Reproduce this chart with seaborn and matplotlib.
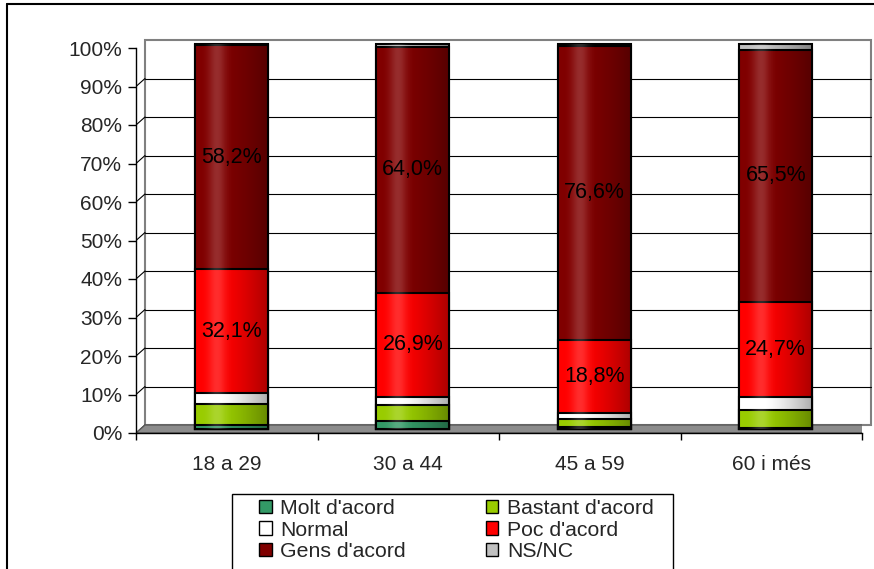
import matplotlib
matplotlib.use("Agg")
import matplotlib.pyplot as plt
import matplotlib.transforms as mtransforms
from matplotlib.patches import Rectangle, Polygon, Patch
from matplotlib.lines import Line2D
import numpy as np
import pandas as pd
import seaborn as sns

sns.set_style("white")
plt.rcParams['font.family'] = ['Liberation Sans', 'DejaVu Sans']
plt.rcParams['font.size'] = 15

# data (percent per age group)
groups = ["18 a 29", "30 a 44", "45 a 59", "60 i més"]
series = ["Molt d'acord", "Bastant d'acord", "Normal", "Poc d'acord", "Gens d'acord", "NS/NC"]
molt = [1.0, 2.2, 0.5, 0.2]
bastant = [5.5, 4.0, 2.1, 4.7]
normal = [2.9, 2.2, 1.6, 3.4]
poc = [32.1, 26.9, 18.8, 24.7]
gens = [58.2, 64.0, 76.6, 65.5]
nsnc = [0.3, 0.7, 0.4, 1.5]
colors = ['#339966', '#99CC00', '#FFFFFF', '#FF0000', '#800000', '#C0C0C0']
labelled = ["Poc d'acord", "Gens d'acord"]

df = pd.DataFrame({'grup': groups, series[0]: molt, series[1]: bastant, series[2]: normal,
                   series[3]: poc, series[4]: gens, series[5]: nsnc})

W, H = 874, 569
fig = plt.figure(figsize=(W / 100, H / 100), dpi=100)
fx0, fx1, fy0, fy1 = 136, 862, 433, 48   # front plane in pixels
ax = fig.add_axes([fx0 / W, 1 - fy0 / H, (fx1 - fx0) / W, (fy0 - fy1) / H])
ax.patch.set_visible(False)

wall_off = mtransforms.ScaledTranslation(0.09, 0.08, fig.dpi_scale_trans)
bar_off = mtransforms.ScaledTranslation(0.045, 0.04, fig.dpi_scale_trans)

# stacked bars: draw cumulative totals from the top down so shorter ones overlay
for i in reversed(range(len(series))):
    d = df.assign(cum=df[series[:i + 1]].sum(axis=1))
    sns.barplot(data=d, x='grup', y='cum', color=colors[i], saturation=1, width=0.4,
                edgecolor='black', linewidth=1.5, errorbar=None, ax=ax)

for p in ax.patches:
    p.set_transform(ax.transData + bar_off)
    p.set_clip_on(False)
    p.set_zorder(3)

ax.set_xlim(-0.5, 3.5)
ax.set_ylim(0, 100)

# shading on bars to mimic the cylinder look
t = np.linspace(0, 1, 80)
shade = np.zeros((1, 80, 4))
shade[..., 3] = 0.32 * np.clip((t - 0.35) / 0.65, 0, 1) ** 1.3
light = np.ones((1, 80, 4))
light[..., 3] = 0.18 * np.exp(-((t - 0.3) / 0.12) ** 2)
for i in range(len(groups)):
    for img in (shade, light):
        im = ax.imshow(img, extent=[i - 0.2, i + 0.2, 0, 100], aspect='auto', zorder=3.5)
        im.set_transform(ax.transData + bar_off)
        im.set_clip_on(False)
ax.set_xlim(-0.5, 3.5)
ax.set_ylim(0, 100)

# back wall and gridlines
ax.add_patch(Rectangle((-0.5, 0), 4, 100, transform=ax.transData + wall_off, facecolor='white',
                       edgecolor='#808080', lw=1.5, zorder=0.5, clip_on=False))
ident = mtransforms.IdentityTransform()
for v in range(0, 101, 10):
    if 0 < v < 100:
        ax.plot([-0.5, 3.5], [v, v], transform=ax.transData + wall_off, color='black',
                lw=0.8, clip_on=False, zorder=0.6)
    X, Y = ax.transData.transform((-0.5, v))
    ax.add_line(Line2D([X, X + 9], [Y, Y + 8], transform=ident,
                       color='#808080' if v == 100 else 'black', lw=0.8, zorder=0.6))

# floor
X0, Y0 = ax.transData.transform((-0.5, 0))
X1, _ = ax.transData.transform((3.5, 0))
ax.add_patch(Polygon([(X0, Y0), (X1, Y0), (X1 + 9, Y0 + 8), (X0 + 9, Y0 + 8)], closed=True,
                     transform=ident, facecolor='#8c8c8c', edgecolor='#5a5a5a', lw=1, zorder=1))

# bar caps
for i in range(len(groups)):
    a = ax.transData.transform((i - 0.2, 100))
    b = ax.transData.transform((i + 0.2, 100))
    ax.add_patch(Polygon([(a[0] + 4.5, a[1] + 4), (b[0] + 4.5, b[1] + 4), (b[0] - 1, b[1] + 7.5),
                          (a[0] + 14, a[1] + 7.5)], closed=True, transform=ident,
                         facecolor=colors[-1], edgecolor='black', lw=1.2, zorder=4))

# value labels
for name in labelled:
    k = series.index(name)
    base = df[series[:k]].sum(axis=1)
    for i, v in enumerate(df[name]):
        ax.text(i, base[i] + v / 2, f"{v:.1f}%".replace('.', ','), ha='center', va='center',
                fontsize=15.5, color='black', transform=ax.transData + bar_off, zorder=5)

# axes styling
for s in ['top', 'right']:
    ax.spines[s].set_visible(False)
for s in ['left', 'bottom']:
    ax.spines[s].set_color('black')
    ax.spines[s].set_linewidth(1)
    ax.spines[s].set_zorder(2)
ax.set_yticks(range(0, 101, 10))
ax.set_yticklabels([f"{v}%" for v in range(0, 101, 10)])
ax.set_xticks(range(len(groups)))
ax.set_xticklabels(groups)
ax.set_xticks(np.arange(-0.5, 3.6, 1), minor=True)
ax.tick_params(axis='y', direction='out', length=6, width=1, color='black', pad=4, left=True)
ax.tick_params(axis='x', which='major', length=0, pad=16)
ax.tick_params(axis='x', which='minor', direction='out', length=5, width=1, color='black', bottom=True)
ax.set_xlabel('')
ax.set_ylabel('')

# chart border
fig.add_artist(Line2D([7 / W, 1], [1 - 4 / H, 1 - 4 / H], transform=fig.transFigure, color='black', lw=1.5))
fig.add_artist(Line2D([7 / W, 7 / W], [0, 1 - 4 / H], transform=fig.transFigure, color='black', lw=1.5))

# legend
order = [0, 2, 4, 1, 3, 5]
handles = [Patch(facecolor=colors[k], edgecolor='black', lw=1) for k in order]
fig.legend(handles, [series[k] for k in order], ncol=2, loc='upper left',
           bbox_to_anchor=(259 / W, 1 - 499 / H), frameon=False, borderpad=0, borderaxespad=0,
           handlelength=0.6, handleheight=0.6, handletextpad=0.4, columnspacing=3.75,
           labelspacing=0.12, fontsize=15.3)
fig.add_artist(Rectangle((232 / W, -0.05), (673 - 232) / W, 1 - 494 / H + 0.05,
                         transform=fig.transFigure, fill=False, edgecolor='black', lw=1))

fig.savefig('out.png', dpi=100)
